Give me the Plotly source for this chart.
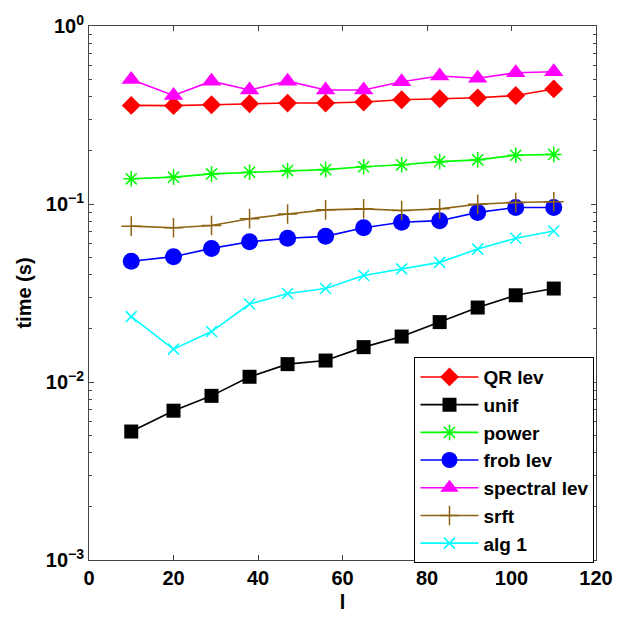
import plotly.graph_objects as go

# Sample sizes (l) and measured run times in seconds
l_vals = [10, 20, 29, 38, 47, 56, 65, 74, 83, 92, 101, 110]

qr_lev = [0.358, 0.357, 0.361, 0.366, 0.369, 0.369, 0.374, 0.385, 0.390, 0.395, 0.407, 0.443]
unif = [0.00527, 0.0069, 0.00836, 0.0107, 0.0126, 0.0132, 0.0157, 0.0180, 0.0217, 0.0262, 0.0307, 0.0335]
power = [0.1385, 0.1415, 0.1476, 0.1508, 0.154, 0.156, 0.162, 0.166, 0.173, 0.177, 0.188, 0.190]
frob_lev = [0.0477, 0.0506, 0.0563, 0.0613, 0.0642, 0.0658, 0.0735, 0.079, 0.0806, 0.0897, 0.0955, 0.0955]
spectral_lev = [0.50, 0.407, 0.49, 0.437, 0.49, 0.437, 0.437, 0.486, 0.524, 0.509, 0.546, 0.553]
srft = [0.0751, 0.0735, 0.0757, 0.0827, 0.0878, 0.0927, 0.0939, 0.092, 0.0939, 0.0996, 0.102, 0.103]
alg1 = [0.0233, 0.0153, 0.0192, 0.0274, 0.0314, 0.0335, 0.0397, 0.0432, 0.0470, 0.0558, 0.0642, 0.0705]

x_ticks = [0, 20, 40, 60, 80, 100, 120]
y_ticks = [0.001, 0.01, 0.1, 1]
y_tick_text = ["10<sup>−3</sup>", "10<sup>−2</sup>", "10<sup>−1</sup>", "10<sup>0</sup>"]
y_minor = [m * 10 ** e for e in (-3, -2, -1) for m in range(2, 10)]

FONT = "Liberation Sans, Arial, Helvetica, sans-serif"

series = [
    ("QR lev", qr_lev, "#ff0000", "diamond", 14.5, 0),
    ("unif", unif, "#000000", "square", 14, 0),
    ("power", power, "#00ff00", "asterisk-open", 13, 1.5),
    ("frob lev", frob_lev, "#0000ff", "circle", 17, 0),
    ("spectral lev", spectral_lev, "#ff00ff", "triangle-up", 17, 0),
    ("srft", srft, "#8c6414", "cross-thin-open", 14, 1.5),
    ("alg 1", alg1, "#00ffff", "x-thin-open", 11, 1.5),
]

fig = go.Figure()
for name, vals, color, symbol, size, lw in series:
    fig.add_trace(go.Scatter(
        x=l_vals, y=vals, name=name, mode="lines+markers",
        line=dict(color=color, width=1.6),
        marker=dict(symbol=symbol, size=size, color=color,
                    line=dict(color=color, width=lw)),
    ))

fig.update_layout(
    width=625, height=621,
    margin=dict(l=89, r=19, t=24, b=56),
    paper_bgcolor="white", plot_bgcolor="white",
    font=dict(family=FONT, size=20, color="black", weight="bold"),
    showlegend=True,
    legend=dict(
        x=0.642, y=0.38, xanchor="left", yanchor="top",
        bgcolor="white", bordercolor="black", borderwidth=1,
        font=dict(family=FONT, size=19, color="black", weight="bold"),
        itemwidth=58, tracegroupgap=0,
    ),
)

fig.update_xaxes(
    range=[0, 120], tickvals=x_ticks, ticktext=[str(v) for v in x_ticks],
    ticks="inside", ticklen=5, tickcolor="#444", tickwidth=1,
    showline=True, linecolor="#444", linewidth=1, mirror="ticks",
    showgrid=False, zeroline=False,
    tickfont=dict(family=FONT, size=20, weight="bold"),
    title=dict(text="l", font=dict(family=FONT, size=20, weight="bold"), standoff=6),
)

fig.update_yaxes(
    type="log", range=[-3, 0], tickvals=y_ticks, ticktext=y_tick_text,
    ticks="inside", ticklen=5, tickcolor="#444", tickwidth=1,
    minor=dict(tickvals=y_minor, ticks="inside", ticklen=3, tickcolor="#444", showgrid=False),
    showline=True, linecolor="#444", linewidth=1, mirror="allticks",
    showgrid=False, zeroline=False,
    tickfont=dict(family=FONT, size=20, weight="bold"),
    title=dict(text="time (s)", font=dict(family=FONT, size=20, weight="bold"), standoff=8),
)

fig.write_html("out.html")
